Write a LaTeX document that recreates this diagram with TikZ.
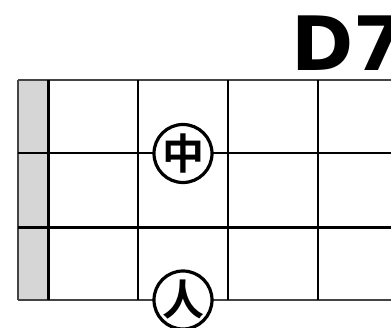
\documentclass[tikz,border=0pt]{standalone}
\usepackage{fontspec}
\newfontfamily\cjk{Noto Sans CJK SC}[BoldFont={* Bold}]
\newfontfamily\titlefont{DejaVu Sans}
\definecolor{nutgray}{HTML}{D6D6D6}
\definecolor{edgegray}{HTML}{444444}
\begin{document}
\begin{tikzpicture}[x=1pt,y=-1pt,
  fretline/.style={line width=2.8pt, black},
  edgeline/.style={line width=2pt, edgegray},
  leftline/.style={line width=1.4pt, edgegray},
  finger/.style={circle, draw, line width=3.2pt, fill=white, minimum size=58pt, inner sep=0pt,
    font=\cjk\bfseries\fontsize{42}{42}\selectfont},
  chordname/.style={inner sep=0pt, font=\titlefont\bfseries\fontsize{75}{75}\selectfont}]
\useasboundingbox (0,0) rectangle (391,327);
% nut strip
\fill[nutgray] (18,80) rectangle (48,300);
\draw[leftline] (18,80) -- (18,300);
% strings (horizontal)
\draw[edgeline] (18,80) -- (391,80);
\draw[fretline] (18,153) -- (391,153);
\draw[fretline] (18,227.5) -- (391,227.5);
\draw[edgeline] (18,300) -- (391,300);
% frets (vertical)
\draw[fretline, line width=3pt] (48,80) -- (48,300);
\foreach \x in {138,228,318} \draw[fretline] (\x,80) -- (\x,300);
% finger marks
\node[finger] (m) at (183,153.5) {中};
\node[finger] (h) at (183,300) {人};
% chord name
\node[chordname, anchor=base west] (t) at (291,70) {D7};
\end{tikzpicture}
\end{document}
